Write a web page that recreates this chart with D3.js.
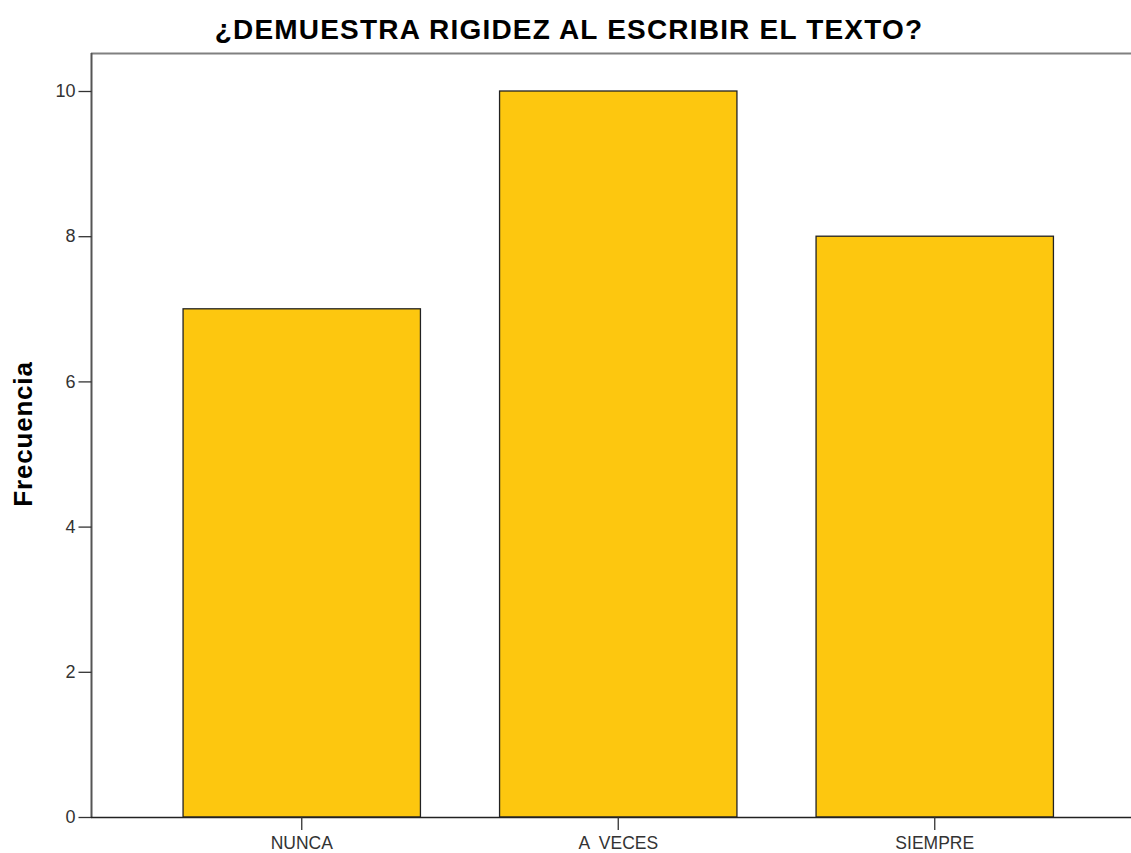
<!DOCTYPE html>
<html><head><meta charset="utf-8">
<script src="https://cdn.jsdelivr.net/npm/d3@7"></script>
<style>body{margin:0;background:#fff}svg{display:block}</style>
</head><body>
<script>
const categories = ["NUNCA", "A  VECES", "SIEMPRE"];
const values = [7, 10, 8];
const yTicks = [0, 2, 4, 6, 8, 10];
const title = "¿DEMUESTRA RIGIDEZ AL ESCRIBIR EL TEXTO?";
const yLabel = "Frecuencia";

const W = 1131, H = 853;
const svg = d3.select("body").append("svg").attr("width", W).attr("height", H);
const mLeft = 91, mTop = 53, mBottom = 817;

const x = d3.scaleBand().domain(categories).range([143.5, 1093]).paddingInner(0.25).paddingOuter(0.125);
const y = d3.scaleLinear().domain([0, 10]).range([mBottom, 91]);

// frame
svg.append("line").attr("x1", mLeft).attr("x2", W).attr("y1", mTop + 0.5).attr("y2", mTop + 0.5)
  .attr("stroke", "#808080").attr("stroke-width", 2);
svg.append("line").attr("x1", mLeft + 0.5).attr("x2", mLeft + 0.5).attr("y1", mTop).attr("y2", mBottom)
  .attr("stroke", "#555").attr("stroke-width", 2);

// bars
svg.selectAll("rect.bar").data(values).enter().append("rect")
  .attr("x", (d, i) => x(categories[i]))
  .attr("y", d => y(d))
  .attr("width", x.bandwidth())
  .attr("height", d => y(0) - y(d))
  .attr("fill", "#FDC70F").attr("stroke", "#222").attr("stroke-width", 1.3);

// y axis
const ya = svg.append("g").attr("transform", `translate(${mLeft + 0.5},0)`)
  .call(d3.axisLeft(y).tickValues(yTicks).tickSize(13).tickPadding(3).tickFormat(d3.format("d")));
ya.select(".domain").remove();
ya.selectAll("line").attr("stroke", "#333").attr("stroke-width", 1.3);
ya.selectAll("text").attr("font-family", "Liberation Sans, Arial, sans-serif").attr("font-size", 18).attr("fill", "#333");

// x axis
const xa = svg.append("g").attr("transform", `translate(0,${mBottom})`)
  .call(d3.axisBottom(x).tickSize(13).tickPadding(7));
xa.select(".domain").attr("d", `M${mLeft},0.5H${W}`).attr("stroke", "#222").attr("stroke-width", 1.5);
xa.selectAll("line").attr("stroke", "#333").attr("stroke-width", 1.3);
xa.selectAll("text").attr("font-family", "Liberation Sans, Arial, sans-serif").attr("font-size", 17.5).attr("fill", "#333").style("white-space", "pre");

// title
svg.append("text").attr("x", 569).attr("y", 38.5).attr("text-anchor", "middle")
  .attr("font-family", "Liberation Sans, Arial, sans-serif").attr("font-weight", "bold").attr("font-size", 28)
  .attr("letter-spacing", 1.2)
  .attr("fill", "#000").text(title);

// y label
svg.append("text").attr("transform", "translate(32,434) rotate(-90)").attr("text-anchor", "middle")
  .attr("font-family", "Liberation Sans, Arial, sans-serif").attr("font-weight", "bold").attr("font-size", 26)
  .attr("letter-spacing", 0.8)
  .attr("fill", "#000").text(yLabel);
</script>
</body></html>
